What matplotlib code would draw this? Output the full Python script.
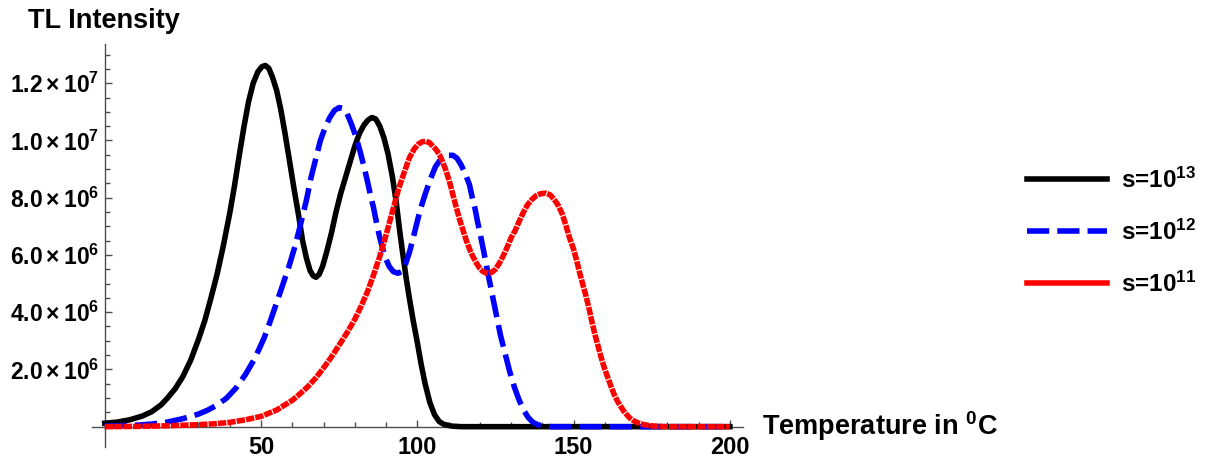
import matplotlib
matplotlib.use('Agg')
import matplotlib.pyplot as plt
from matplotlib.lines import Line2D
from matplotlib.ticker import FixedLocator

plt.rcParams['font.family'] = ['Liberation Sans', 'DejaVu Sans']
plt.rcParams['font.weight'] = 'bold'
plt.rcParams['mathtext.fontset'] = 'custom'
plt.rcParams['mathtext.rm'] = 'Liberation Sans:bold'
plt.rcParams['mathtext.bf'] = 'Liberation Sans:bold'
plt.rcParams['mathtext.it'] = 'Liberation Sans:bold'

# glow curves, intensity in units of 1e6
t_s13 = [0, 4, 8, 12, 15, 18, 20, 22.5, 25, 27.5, 30, 32, 34, 36, 38, 40, 41.5, 43, 44.5, 46,
         47.5, 49, 50.3, 51.4, 52.5, 53.7, 55, 56.3, 57.6, 59.1, 60.5, 62, 63.3, 64.5, 65.7,
         66.7, 67.6, 68.6, 69.7, 71, 72.5, 74, 75.5, 77, 78.5, 80, 81.5, 83, 84.3, 85.5, 86.7,
         88, 89.3, 90.6, 92, 93.2, 94.3, 95.4, 96.5, 97.6, 98.7, 100, 101.2, 102.5, 104,
         105.5, 107, 108.5, 111, 114, 200]
i_s13 = [0.12, 0.16, 0.24, 0.37, 0.52, 0.76, 0.99, 1.32, 1.75, 2.32, 3.05, 3.7, 4.5, 5.35,
         6.35, 7.46, 8.4, 9.45, 10.45, 11.35, 12.0, 12.4, 12.58, 12.62, 12.52, 12.2, 11.75,
         11.1, 10.3, 9.3, 8.35, 7.4, 6.5, 5.9, 5.45, 5.27, 5.22, 5.32, 5.6, 6.1, 6.75, 7.5,
         8.15, 8.7, 9.25, 9.8, 10.25, 10.55, 10.72, 10.8, 10.75, 10.5, 10.1, 9.55, 8.75, 7.9,
         6.9, 6.0, 5.15, 4.4, 3.7, 2.95, 2.2, 1.5, 0.85, 0.42, 0.18, 0.08, 0.02, 0, 0]

t_s12 = [0, 10, 15, 20, 25, 30, 33, 36, 39, 42, 45, 48, 51, 53, 55, 57, 59, 61, 62.5, 64.5,
         66, 67.5, 69, 70.5, 72, 73.5, 75, 76.3, 77.5, 79, 80.3, 81.5, 82.8, 84, 85, 86, 87,
         88, 89, 90, 91, 92.3, 93.8, 95, 96.3, 97.5, 98.6, 99.6, 101, 102.6, 104.2, 105.8,
         107.2, 108.6, 110, 111.4, 112.7, 114, 115.3, 116.7, 117.6, 118.5, 119.3, 120, 121.3,
         122.6, 124, 125.3, 126.6, 128, 129.5, 131, 132.5, 134, 135.5, 137, 138.5, 140, 143,
         200]
i_s12 = [0.02, 0.05, 0.09, 0.16, 0.28, 0.44, 0.58, 0.76, 1.0, 1.35, 1.82, 2.38, 3.1, 3.7,
         4.33, 4.97, 5.62, 6.35, 7.0, 7.9, 8.7, 9.35, 10.0, 10.45, 10.8, 11.05, 11.15, 11.12,
         10.95, 10.55, 10.15, 9.7, 9.15, 8.6, 8.1, 7.65, 7.1, 6.6, 6.2, 5.85, 5.6, 5.42, 5.36,
         5.42, 5.7, 6.1, 6.55, 7.0, 7.6, 8.15, 8.65, 9.08, 9.3, 9.42, 9.48, 9.48, 9.38, 9.15,
         8.85, 8.45, 8.0, 7.6, 7.15, 6.8, 6.1, 5.36, 4.6, 3.9, 3.2, 2.6, 1.95, 1.4, 0.95, 0.58,
         0.32, 0.15, 0.07, 0.03, 0, 0]

t_s11 = [0, 10, 20, 30, 35, 40, 45, 50, 55, 60, 62.5, 65, 67.5, 70, 72.5, 75, 77.5, 80, 82,
         84, 86, 88, 89.5, 91, 92.5, 94, 95.7, 97.5, 99, 100.3, 101.5, 102.6, 103.8, 105, 106,
         107.1, 108, 109, 110.2, 111.4, 112.5, 113.5, 114.6, 115.7, 116.8, 117.8, 119, 120,
         121, 122, 122.8, 123.8, 125, 126.3, 127.5, 128.8, 130, 131.3, 132.5, 134, 135.2,
         136.5, 138, 139.5, 141, 142.5, 143.7, 145, 146.3, 147.5, 148.7, 150, 151, 152, 153,
         154, 155, 156, 157, 158, 159, 160, 161, 162, 163, 164, 165, 166, 167, 168, 169, 170,
         171.5, 173, 175, 177, 180, 200]
i_s11 = [0, 0.01, 0.03, 0.07, 0.1, 0.15, 0.24, 0.36, 0.58, 0.92, 1.15, 1.4, 1.7, 2.05, 2.43,
         2.85, 3.28, 3.75, 4.2, 4.7, 5.3, 5.95, 6.5, 7.1, 7.7, 8.3, 8.85, 9.4, 9.7, 9.87, 9.95,
         9.97, 9.93, 9.8, 9.68, 9.5, 9.28, 9.0, 8.6, 8.1, 7.65, 7.25, 6.87, 6.5, 6.18, 5.94,
         5.7, 5.53, 5.42, 5.37, 5.36, 5.39, 5.5, 5.72, 5.97, 6.28, 6.6, 6.85, 7.15, 7.5, 7.74,
         7.92, 8.07, 8.14, 8.16, 8.1, 7.95, 7.75, 7.45, 7.05, 6.6, 6.2, 5.8, 5.35, 4.95, 4.55,
         4.1, 3.6, 3.15, 2.75, 2.35, 2.0, 1.7, 1.4, 1.12, 0.9, 0.72, 0.55, 0.42, 0.3, 0.22,
         0.16, 0.1, 0.06, 0.03, 0.01, 0, 0]

labels = [r's=10$^{\mathbf{13}}$', r's=10$^{\mathbf{12}}$', r's=10$^{\mathbf{11}}$']
y_ticks = [2e6, 4e6, 6e6, 8e6, 10e6, 12e6]
y_tick_labels = [r'$\mathbf{2.0\times10^{6}}$', r'$\mathbf{4.0\times10^{6}}$',
                 r'$\mathbf{6.0\times10^{6}}$', r'$\mathbf{8.0\times10^{6}}$',
                 r'$\mathbf{1.0\times10^{7}}$', r'$\mathbf{1.2\times10^{7}}$']

fig = plt.figure(figsize=(12.11, 4.61), dpi=100)
ax = fig.add_axes([91.6 / 1211, 1 - 446.7 / 461, (743.3 - 91.6) / 1211, (446.7 - 44) / 461])

lw = 4.0
ax.plot(t_s13, [v * 1e6 for v in i_s13], color='black', lw=lw, zorder=3,
        solid_joinstyle='round')
ax.plot(t_s12, [v * 1e6 for v in i_s12], color='blue', lw=lw, zorder=4,
        linestyle=(0, (4.0, 1.45)), dash_capstyle='butt', dash_joinstyle='round')
ax.plot(t_s11, [v * 1e6 for v in i_s11], color='red', lw=lw, zorder=5,
        linestyle=(0, (1.5, 0.2)), dash_capstyle='butt', dash_joinstyle='round')

ax.set_xlim(-4.2, 204.3)
ax.set_ylim(-0.7e6, 13.37e6)

# Mathematica style axes crossing at the origin
for side in ['top', 'right']:
    ax.spines[side].set_visible(False)
ax.spines['left'].set_position(('data', 0))
ax.spines['bottom'].set_position(('data', 0))
for side in ['left', 'bottom']:
    ax.spines[side].set_color('0.3')
    ax.spines[side].set_linewidth(1.0)
    ax.spines[side].set_zorder(2)

ax.xaxis.set_major_locator(FixedLocator([50, 100, 150, 200]))
ax.xaxis.set_minor_locator(FixedLocator([v for v in range(10, 200, 10) if v % 50]))
ax.yaxis.set_major_locator(FixedLocator(y_ticks))
ax.yaxis.set_minor_locator(FixedLocator([k * 0.5e6 for k in range(1, 27) if k % 4]))
ax.set_yticklabels(y_tick_labels)
ax.set_xticklabels(['50', '100', '150', '200'])

ax.tick_params(axis='both', which='major', direction='in', length=5, width=1.0, color='0.3')
ax.tick_params(axis='both', which='minor', direction='in', length=3.5, width=1.0, color='0.3')
ax.tick_params(axis='x', which='major', pad=7, labelsize=17)
ax.tick_params(axis='y', which='major', pad=4, labelsize=16.5)
for lab in ax.get_xticklabels():
    lab.set_fontweight('bold')

fig.text(28 / 1211, 1 - 27.5 / 461, 'TL Intensity', fontsize=19.5, fontweight='bold',
         va='baseline', ha='left')
fig.text(762 / 1211, 1 - 435 / 461, r'Temperature in $^{\mathbf{0}}$C', fontsize=19.5,
         fontweight='bold', va='baseline', ha='left')

handles = [Line2D([], [], color='black', lw=lw),
           Line2D([], [], color='blue', lw=lw, linestyle=(0, (4.0, 1.45))),
           Line2D([], [], color='red', lw=lw)]
leg = fig.legend(handles, labels, loc='center left', bbox_to_anchor=(1027 / 1211, 1 - 232 / 461),
                 frameon=False, fontsize=17.5, handlelength=3.3, handletextpad=0.55,
                 labelspacing=1.1, borderpad=0, borderaxespad=0)
for txt in leg.get_texts():
    txt.set_fontweight('bold')

fig.savefig('out.png', dpi=100)
